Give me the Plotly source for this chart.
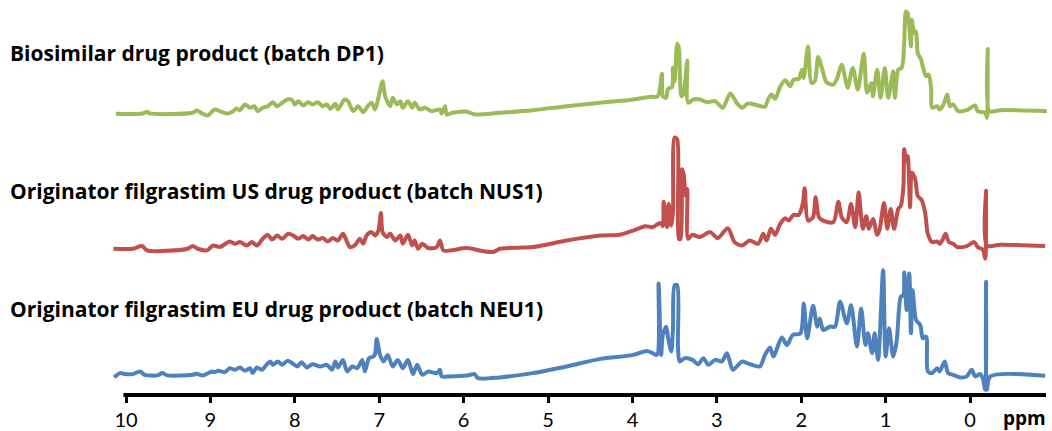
import plotly.graph_objects as go

# ---- data (ppm, relative intensity) ----
dp1_ppm = [10.12, 9.80, 9.75, 9.72, 9.21, 9.16, 9.10, 9.03, 8.95, 8.89, 8.79, 8.73, 8.69, 8.65, 8.59, 8.53, 8.48, 8.44, 8.38, 8.32,
           8.26, 8.21, 8.15, 8.09, 8.03, 8.00, 7.96, 7.90, 7.84, 7.79, 7.73, 7.67, 7.62, 7.58, 7.52, 7.49, 7.41, 7.37, 7.31, 7.25,
           7.19, 7.13, 7.09, 7.05, 7.01, 6.96, 6.93, 6.87, 6.84, 6.79, 6.75, 6.72, 6.66, 6.61, 6.58, 6.52, 6.46, 6.38, 6.28, 6.26,
           6.22, 6.20, 6.13, 5.96, 5.87, 5.57, 5.18, 4.78, 4.38, 3.99, 3.79, 3.70, 3.65, 3.64, 3.60, 3.58, 3.53, 3.52, 3.50, 3.47,
           3.45, 3.42, 3.40, 3.38, 3.35, 3.34, 3.28, 3.20, 3.12, 3.02, 2.93, 2.84, 2.76, 2.70, 2.63, 2.51, 2.43, 2.39, 2.35, 2.31,
           2.25, 2.19, 2.13, 2.09, 2.03, 1.99, 1.97, 1.92, 1.88, 1.84, 1.80, 1.75, 1.70, 1.62, 1.58, 1.52, 1.48, 1.45, 1.39, 1.33,
           1.26, 1.22, 1.17, 1.15, 1.10, 1.06, 1.01, 0.97, 0.91, 0.89, 0.85, 0.81, 0.78, 0.76, 0.74, 0.70, 0.69, 0.66, 0.64, 0.62,
           0.58, 0.56, 0.52, 0.49, 0.46, 0.45, 0.39, 0.36, 0.32, 0.27, 0.24, 0.20, 0.14, 0.04, -0.06, -0.09, -0.18, -0.20, -0.21, -0.23,
           -0.36, -0.91]
dp1_int = [-2.3, -2, -0.3, -2, -1.3, 1, -2, -4, 2, 0.3, -2, 0.3, 3, 1.3, 7, 3.7, 5.3, 0.3, 3.7, 5.3,
           9.3, 5.3, 8.7, 12, 11.3, 7, 10.3, 6, 9.3, 7, 9.3, 5.3, 7, 2.7, 7.7, 2, 12, 10.3, 0.3, 5.3,
           -0.7, 6, 8.7, 2, 13.7, 30.3, 15.3, 5.3, 13.7, 7, 10.3, 3.7, 10.3, 3.7, 8.7, 2, 3.7, 0.3, 2, -2,
           5.3, -3, -1.3, -0.3, -3, -1.3, 1.3, 5.3, 8.7, 12, 14.7, 15.3, 38, 15.3, 13.7, 22.7, 24.7, 43.7, 30.3, 68,
           63.7, 15.3, 17, 26, 51.3, 8.7, 12, 12, 9.3, 10.3, 3.7, 18, 8, 3.7, 8, 6, 4.7, 12.7, 17, 12.7,
           24.7, 31.3, 25.3, 32, 32.7, 42, 33.7, 65.3, 28.7, 30.3, 54.7, 42, 29.3, 27, 32, 47, 33.7, 23.7, 43.7, 22,
           58, 18.7, 28.7, 15.3, 42, 13.7, 43.7, 13.7, 40.3, 13.7, 42, 43.7, 68.7, 100.3, 98.7, 65.3, 92, 78.7, 80.3, 58.7,
           52, 45.3, 35.3, 37, 22, 3.7, 5.3, 2, 6, 17, 5.3, 7, 0.3, 1.3, 6, 0.3, -1.3, -6.3, 62.7, 0.3,
           1.3, 0.3]

nus1_ppm = [10.15, 9.92, 9.81, 9.75, 9.27, 9.21, 9.15, 9.04, 8.97, 8.89, 8.77, 8.71, 8.65, 8.57, 8.51, 8.45, 8.38, 8.32, 8.27, 8.21,
            8.15, 8.08, 8.02, 7.96, 7.90, 7.84, 7.79, 7.73, 7.67, 7.61, 7.55, 7.49, 7.43, 7.38, 7.35, 7.29, 7.23, 7.19, 7.15, 7.09,
            7.05, 7.01, 6.98, 6.96, 6.91, 6.87, 6.81, 6.75, 6.72, 6.66, 6.61, 6.58, 6.54, 6.49, 6.42, 6.32, 6.28, 6.24, 6.16, 5.96,
            5.81, 5.65, 5.57, 5.18, 4.78, 4.38, 4.15, 3.99, 3.85, 3.76, 3.67, 3.64, 3.63, 3.59, 3.57, 3.54, 3.52, 3.50, 3.47, 3.45,
            3.43, 3.41, 3.39, 3.37, 3.35, 3.34, 3.29, 3.20, 3.08, 2.99, 2.87, 2.79, 2.70, 2.61, 2.51, 2.45, 2.41, 2.36, 2.31, 2.25,
            2.19, 2.15, 2.09, 2.03, 1.98, 1.96, 1.92, 1.86, 1.83, 1.79, 1.74, 1.62, 1.56, 1.52, 1.46, 1.41, 1.36, 1.32, 1.27, 1.23,
            1.20, 1.15, 1.10, 1.07, 1.02, 0.98, 0.94, 0.90, 0.85, 0.82, 0.79, 0.78, 0.76, 0.74, 0.71, 0.69, 0.65, 0.62, 0.57, 0.53,
            0.50, 0.45, 0.39, 0.36, 0.32, 0.29, 0.25, 0.20, 0.15, 0.04, -0.05, -0.09, -0.15, -0.18, -0.19, -0.20, -0.36, -0.89]
nus1_int = [-3, -3, -0.3, -4.7, -3, -0.3, -3, -4.7, 0.3, -1.3, 4.3, 2, 3.7, 0.3, 3.7, 0.3, 7, 11, 6.3, 10.3,
            7, 12, 10.3, 7, 9.7, 6.3, 9.7, 6.3, 7.7, 4.3, 7.7, 5.3, 12, 3.7, -1.3, 0.3, 7, 2, 10.3, 13.7,
            10.3, 15.3, 33, 13.7, 8.7, 12, 5.3, 10.3, 2, 11, 0.3, 5.3, -3, 2, -2.3, -1.3, 5.3, -4.7, -4.7, -2.3,
            -4.7, -6.3, -3, -1.3, 5.3, 10.3, 11, 15.3, 19.7, 18.7, 23, 19.7, 44.3, 18.7, 42, 20.3, 33.7, 108.7, 107, 7,
            7, 77, 70.3, 50.3, 57, 7, 11, 8.7, 13.7, 7.7, 17.7, 3.7, 0.3, 5.3, 2, 12, 5.3, 17, 11, 22,
            27.7, 25.3, 31, 31, 43, 57.7, 25.3, 28.7, 48.7, 28.7, 25.3, 23.7, 44.3, 28.7, 23.7, 42, 18.7, 53.7, 17, 29.7,
            17, 27, 11, 17, 43, 17, 37, 17, 37, 40.3, 58.7, 97, 85.3, 90.3, 38.7, 73.7, 67, 50.3, 45.3, 32,
            12, 3.7, 4.3, 2, 7, 12, 3.7, 2, -1.3, -0.3, 3.7, -1.3, -3.7, -13, 55.3, 0.3, 1, -0.3]

neu1_ppm = [10.14, 10.07, 10.01, 9.92, 9.83, 9.78, 9.63, 9.57, 9.51, 9.21, 9.16, 9.09, 8.98, 8.95, 8.91, 8.83, 8.77, 8.71, 8.65, 8.59,
            8.53, 8.50, 8.45, 8.39, 8.33, 8.29, 8.26, 8.20, 8.15, 8.09, 8.03, 7.97, 7.92, 7.86, 7.79, 7.70, 7.62, 7.56, 7.52, 7.49,
            7.43, 7.38, 7.32, 7.26, 7.20, 7.17, 7.12, 7.07, 7.05, 7.03, 6.99, 6.95, 6.90, 6.84, 6.78, 6.72, 6.66, 6.60, 6.55, 6.49,
            6.42, 6.32, 6.28, 6.26, 6.16, 5.96, 5.87, 5.83, 5.57, 5.18, 4.78, 4.38, 3.99, 3.83, 3.76, 3.71, 3.69, 3.66, 3.64, 3.60,
            3.58, 3.54, 3.52, 3.50, 3.47, 3.46, 3.44, 3.38, 3.29, 3.22, 3.16, 3.10, 3.02, 2.94, 2.88, 2.81, 2.70, 2.61, 2.49, 2.43,
            2.37, 2.33, 2.23, 2.17, 2.10, 2.01, 1.97, 1.93, 1.86, 1.81, 1.78, 1.74, 1.66, 1.60, 1.54, 1.46, 1.41, 1.34, 1.29, 1.24,
            1.21, 1.16, 1.13, 1.09, 1.03, 1.00, 0.96, 0.91, 0.87, 0.82, 0.79, 0.78, 0.75, 0.72, 0.70, 0.68, 0.64, 0.59, 0.56, 0.52,
            0.50, 0.45, 0.39, 0.36, 0.30, 0.26, 0.20, 0.12, 0.04, -0.02, -0.06, -0.12, -0.15, -0.18, -0.19, -0.20, -0.24, -0.89]
neu1_int = [-1.3, 3, 2, 2, 4.7, 1.3, 0.7, 3, 0.7, 1.3, 2.3, 0.7, 4.7, 4, 5.3, 4, 8, 6.3, 8.7, 5.3,
            8, 3, 8.7, 6.3, 12, 14.7, 11.3, 14.7, 11.3, 15.3, 13, 9.7, 14, 8.7, 12, 9.7, 11.3, 6.3, 14.7, 8.7,
            16.3, 4.7, 9.7, 8, 16.3, 4.7, 18, 19.7, 22, 37.3, 21.3, 14.7, 21.3, 9.7, 16.3, 8, 16.3, 2, 11.3, 1.3,
            4.7, 3, 6.3, -0.3, -0.3, 0.7, 2, -2, -1.3, 3, 9.7, 17.3, 21.3, 25.3, 23, 21.3, 93, 21.3, 41.3, 49.7,
            39.7, 24.7, 48, 91.3, 91.3, 28, 14.7, 18, 16.3, 12, 18, 11.3, 16.3, 14.7, 23, 6.3, 14.7, 12, 9.7, 21.3,
            28.7, 19.7, 38.7, 31.3, 41.3, 43, 73, 38, 70.7, 49.7, 58, 46.3, 49.7, 49.7, 74.7, 53, 71.3, 29.7, 68, 31.3,
            43, 23, 43, 16.3, 106.3, 19.7, 48, 19.7, 34.7, 79.7, 81.3, 104, 66.3, 103, 43, 86.3, 56.3, 51.3, 38, 39.7,
            4.7, 3, 8, 4.7, 14.7, 3, 1.3, -1.3, -0.3, 6.3, -0.3, 2, -2, -13.7, 94.7, -13.7, -0.3, 0.3]

series_names = ["Biosimilar drug product (batch DP1)",
                "Originator filgrastim US drug product (batch NUS1)",
                "Originator filgrastim EU drug product (batch NEU1)"]
series_offsets = [285, 150, 19]
series_colors = ["#9BBB59", "#C0504D", "#4F81BD"]
tick_values = [10, 9, 8, 7, 6, 5, 4, 3, 2, 1, 0]
x_unit = "ppm"

spectra = [(dp1_ppm, dp1_int), (nus1_ppm, nus1_int), (neu1_ppm, neu1_int)]

fig = go.Figure()
annotations = []
for (ppm, inten), name, off, col in zip(spectra, series_names, series_offsets, series_colors):
    fig.add_trace(go.Scatter(
        x=ppm, y=[v + off for v in inten], mode="lines", name=name,
        line=dict(color=col, width=4, shape="spline", smoothing=0.8, simplify=False),
        hoverinfo="skip", showlegend=False))

label_y = [344, 205, 86]
for name, ly in zip(series_names, label_y):
    annotations.append(dict(text="<b>%s</b>" % name, xref="paper", yref="y", x=0.0076, y=ly,
                            xanchor="left", yanchor="middle", showarrow=False,
                            font=dict(family="Open Sans", size=21, color="black")))
annotations.append(dict(text="<b>%s</b>" % x_unit, xref="paper", yref="paper", x=1048 / 1052, y=-23 / 397,
                        xanchor="right", yanchor="middle", showarrow=False,
                        font=dict(family="Open Sans", size=19, color="black")))

fig.update_layout(
    width=1052, height=431,
    margin=dict(l=0, r=0, t=0, b=34),
    paper_bgcolor="white", plot_bgcolor="white",
    annotations=annotations,
    shapes=[dict(type="line", xref="x", yref="paper", x0=10.03, x1=-0.90, y0=0, y1=0,
                 line=dict(color="black", width=4))],
    xaxis=dict(range=[11.493, -0.971], tickvals=tick_values, ticks="outside", ticklen=7, tickwidth=3,
               tickcolor="black", showgrid=False, zeroline=False, showline=False,
               tickfont=dict(family="Lato", size=20, color="black")),
    yaxis=dict(range=[0, 397], visible=False, showgrid=False, zeroline=False),
)
fig.write_html("out.html")
